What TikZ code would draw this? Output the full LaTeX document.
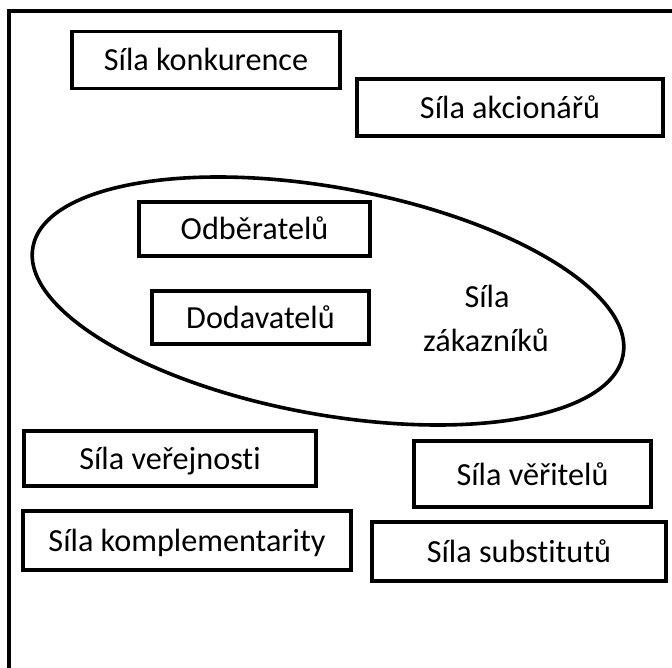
\documentclass[tikz,border=0pt]{standalone}
\usepackage{fontspec}
\setmainfont{Carlito}[RawFeature={-liga}]
\usetikzlibrary{shapes.geometric}
\begin{document}
\begin{tikzpicture}[x=1pt,y=-1pt,
  fbox/.style={draw=black, line width=3.6pt, inner sep=0pt, fill=white,
    font=\fontsize{32.2}{38}\selectfont, text height=28pt, text depth=6pt},
  plain/.style={inner sep=0pt, font=\fontsize{32.2}{38}\selectfont}]
\useasboundingbox (0,0) rectangle (672,668);
\fill[white] (0,0) rectangle (672,668);
\clip (0,0) rectangle (672,668);
% outer frame
\draw[line width=4pt] (8.5,11.5) rectangle (690,690);
% ellipse
\node[draw=black, line width=3.6pt, ellipse, minimum width=600pt, minimum height=227pt,
  inner sep=0pt, rotate=-10.35] (ell) at (328,301) {};
% boxes
\node[fbox, minimum width=268pt, minimum height=57pt] (konk) at (206,60) {Síla konkurence};
\node[fbox, minimum width=306pt, minimum height=57pt] (akc) at (510,107.5) {Síla akcionářů};
\node[fbox, minimum width=231pt, minimum height=54pt] (odb) at (254.5,229) {Odběratelů};
\node[fbox, minimum width=217pt, minimum height=53pt] (dod) at (260.5,317.5) {Dodavatelů};
\node[fbox, minimum width=292pt, minimum height=55pt] (ver) at (170,458.5) {Síla veřejnosti};
\node[fbox, minimum width=328pt, minimum height=59pt] (kom) at (187,540.5) {Síla komplementarity};
\node[fbox, minimum width=237pt, minimum height=66pt] (veri) at (532.5,474) {Síla věřitelů};
\node[fbox, minimum width=294pt, minimum height=59pt] (sub) at (519,551.5) {Síla substitutů};
% ellipse label
\node[plain, anchor=base] (zak1) at (487,308) {Síla};
\node[plain, anchor=base] (zak2) at (486,352) {zákazníků};
\end{tikzpicture}
\end{document}
